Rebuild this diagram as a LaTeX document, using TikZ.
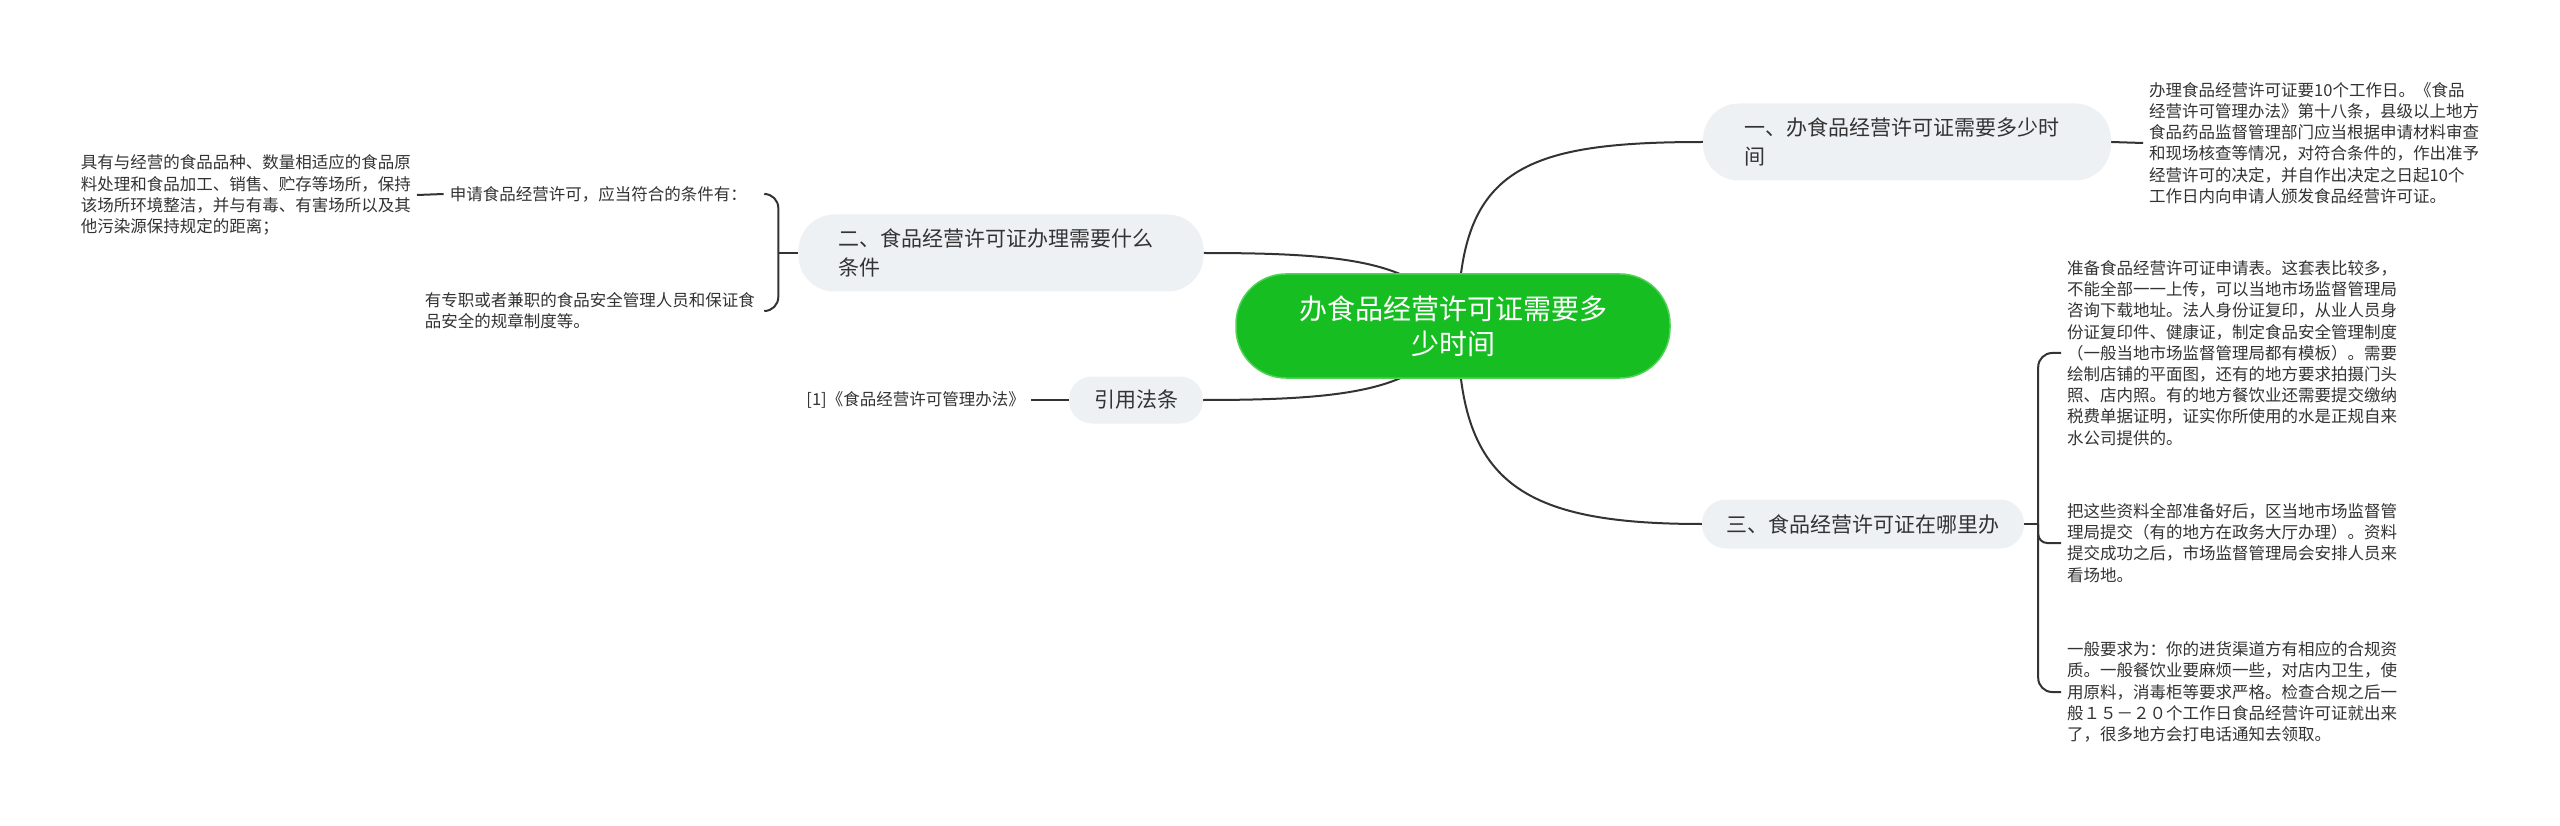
\documentclass[tikz,border=0pt]{standalone}
\usepackage{fontspec}
\setmainfont{Noto Sans CJK SC}
\usetikzlibrary{backgrounds}
\definecolor{rootgreen}{HTML}{17BE22}
\definecolor{rootedge}{HTML}{4FD255}
\definecolor{pillfill}{HTML}{EEF1F4}
\definecolor{txt}{HTML}{333333}
\definecolor{linec}{HTML}{333333}
\begin{document}
\begin{tikzpicture}[x=1pt,y=-1pt,
  rootnode/.style={fill=rootgreen, draw=rootedge, line width=1.5pt, rounded corners=50pt,
    minimum width=434pt, minimum height=104pt, text=white,
    font=\fontsize{28}{35}\selectfont, align=center, inner sep=0pt},
  branch/.style={fill=pillfill, text=txt, font=\fontsize{21}{29}\selectfont, inner sep=0pt},
  leaf/.style={text=txt, font=\fontsize{16.5}{21.2}\selectfont, align=left, inner sep=6pt},
  conn/.style={draw=linec, line width=2pt},
]
\useasboundingbox (0,0) rectangle (2560,826);

\node[rootnode] (root) at (1453,326) {办食品经营许可证需要多\\少时间};

\node[branch, rounded corners=36pt, minimum width=408pt, minimum height=77pt,
  text width=325pt, align=left] (b1) at (1907,142) {一、办食品经营许可证需要多少时\\间};
\node[branch, rounded corners=36pt, minimum width=405pt, minimum height=77pt,
  text width=325pt, align=left] (b2) at (1001,253) {二、食品经营许可证办理需要什么\\条件};
\node[branch, rounded corners=24pt, minimum width=322pt, minimum height=49pt] (b3) at (1863,524) {三、食品经营许可证在哪里办};
\node[branch, rounded corners=23pt, minimum width=134pt, minimum height=47pt] (b4) at (1136,400) {引用法条};

\node[leaf, anchor=west] (l1) at (2143,143) {办理食品经营许可证要10个工作日。《食品\\经营许可管理办法》第十八条，县级以上地方\\食品药品监督管理部门应当根据申请材料审查\\和现场核查等情况，对符合条件的，作出准予\\经营许可的决定，并自作出决定之日起10个\\工作日内向申请人颁发食品经营许可证。};

\node[leaf, anchor=west] (l3a) at (2061,353) {准备食品经营许可证申请表。这套表比较多，\\不能全部一一上传，可以当地市场监督管理局\\咨询下载地址。法人身份证复印，从业人员身\\份证复印件、健康证，制定食品安全管理制度\\（一般当地市场监督管理局都有模板）。需要\\绘制店铺的平面图，还有的地方要求拍摄门头\\照、店内照。有的地方餐饮业还需要提交缴纳\\税费单据证明，证实你所使用的水是正规自来\\水公司提供的。};
\node[leaf, anchor=west] (l3b) at (2061,543) {把这些资料全部准备好后，区当地市场监督管\\理局提交（有的地方在政务大厅办理）。资料\\提交成功之后，市场监督管理局会安排人员来\\看场地。};
\node[leaf, anchor=west] (l3c) at (2061,692) {一般要求为：你的进货渠道方有相应的合规资\\质。一般餐饮业要麻烦一些，对店内卫生，使\\用原料，消毒柜等要求严格。检查合规之后一\\般１５－２０个工作日食品经营许可证就出来\\了，很多地方会打电话通知去领取。};

\node[leaf, anchor=east] (c1) at (753,194) {申请食品经营许可，应当符合的条件有：};
\node[leaf, anchor=east] (c2) at (761,311) {有专职或者兼职的食品安全管理人员和保证食\\品安全的规章制度等。};
\node[leaf, anchor=east] (d1) at (417,195) {具有与经营的食品品种、数量相适应的食品原\\料处理和食品加工、销售、贮存等场所，保持\\该场所环境整洁，并与有毒、有害场所以及其\\他污染源保持规定的距离；};
\node[leaf, anchor=east] (r1) at (1031,400) {[1]《食品经营许可管理办法》};

\coordinate (j3) at ([xshift=14pt]b3.east);
\coordinate (j2) at ([xshift=-20pt]b2.west);

\begin{scope}[on background layer]
  \fill[white] (0,0) rectangle (2560,826);
  \draw[conn] ([xshift=5pt]root.center) .. controls (1458,170) and (1520,142) .. (b1.west);
  \draw[conn] ([xshift=5pt]root.center) .. controls (1458,482) and (1520,524) .. (b3.west);
  \draw[conn] (root.center) .. controls (1428,262) and (1350,253) .. (b2.east);
  \draw[conn] (root.center) .. controls (1428,390) and (1350,400) .. (b4.east);
  \draw[conn] (b1.east) -- (l1.west);
  \draw[conn] (b3.east) -- (j3);
  \draw[conn, rounded corners=14pt] (j3) |- (l3a.west);
  \draw[conn, rounded corners=9pt] (j3) |- (l3b.west);
  \draw[conn, rounded corners=14pt] (j3) |- (l3c.west);
  \draw[conn] (b2.west) -- (j2);
  \draw[conn, rounded corners=14pt] (j2) |- ([xshift=12pt]c1.east);
  \draw[conn, rounded corners=14pt] (j2) |- ([xshift=4pt]c2.east);
  \draw[conn] (c1.west) -- (d1.east);
  \draw[conn] (b4.west) -- (r1.east);
\end{scope}
\end{tikzpicture}
\end{document}
